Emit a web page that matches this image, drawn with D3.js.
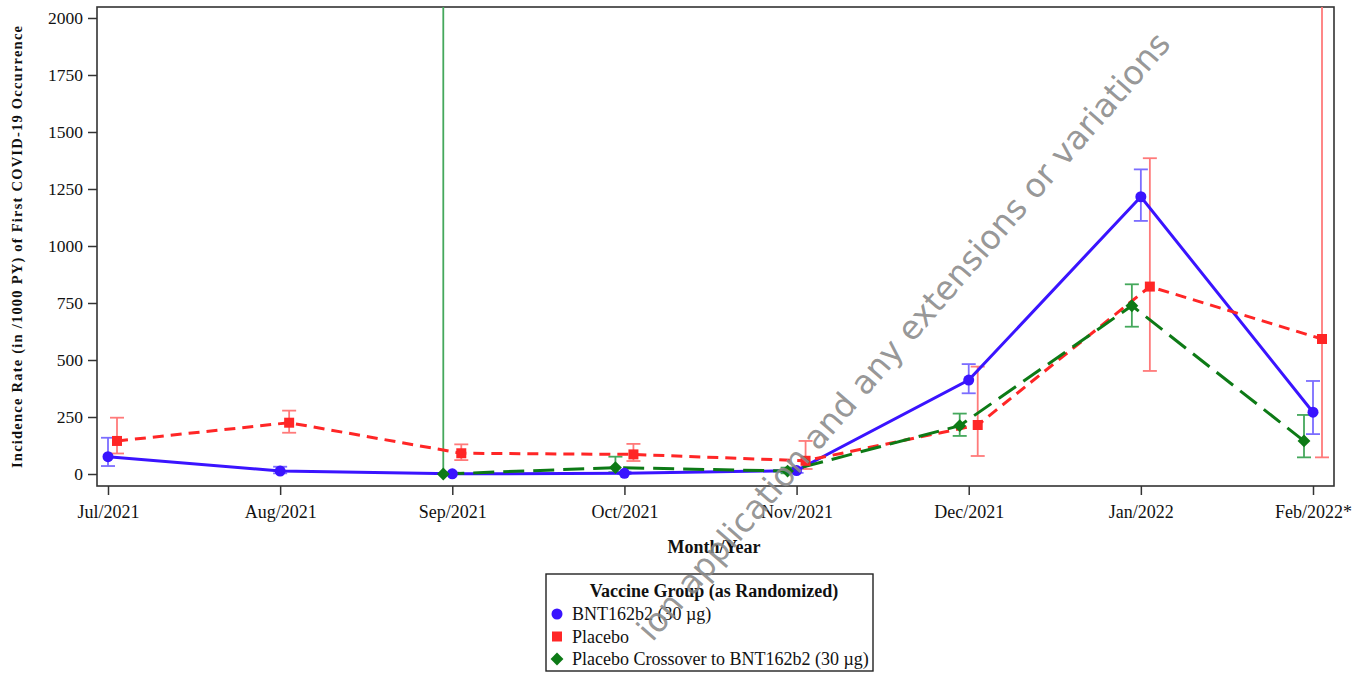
<!DOCTYPE html>
<html>
<head>
<meta charset="utf-8">
<script src="https://cdn.jsdelivr.net/npm/d3@7"></script>
<style>
  html, body { margin: 0; padding: 0; background: #fff; }
  svg { display: block; }
</style>
</head>
<body>
<svg id="chart" width="1364" height="673"></svg>
<script>
// --- data ---
const months = ["Jul/2021", "Aug/2021", "Sep/2021", "Oct/2021", "Nov/2021", "Dec/2021", "Jan/2022", "Feb/2022*"];
const yTicks = [0, 250, 500, 750, 1000, 1250, 1500, 1750, 2000];

const bntRate = [76, 13, 1, 3, 15, 412, 1216, 271];
const bntLow  = [35, 3, 0, 0, 5, 354, 1110, 175];
const bntHigh = [159, 32, 6, 10, 28, 482, 1336, 408];

const placeboRate = [145, 225, 91, 86, 58, 215, 822, 592];
const placeboLow  = [90, 181, 61, 57, 22, 79, 452, 73];
const placeboHigh = [247, 278, 130, 132, 145, 471, 1385, 3000];

const crossRate = [null, null, 0, 28, 13, 212, 738, 145];
const crossLow  = [null, null, 0, 8, 3, 167, 646, 73];
const crossHigh = [null, null, 20000, 76, 28, 265, 832, 259];

const legendTitle = "Vaccine Group (as Randomized)";
const seriesNames = ["BNT162b2 (30 \u00b5g)", "Placebo", "Placebo Crossover to BNT162b2 (30 \u00b5g)"];

const series = [
    { name: seriesNames[0], rate: bntRate, low: bntLow, high: bntHigh,
      color: "#3a14ff", barColor: "#7b6dff", dash: null, width: 3, shape: "circle", dx: 0 },
    { name: seriesNames[1], rate: placeboRate, low: placeboLow, high: placeboHigh,
      color: "#ff2626", barColor: "#ff7a7a", dash: "11,7", width: 3, shape: "square", dx: 9 },
    { name: seriesNames[2], rate: crossRate, low: crossLow, high: crossHigh,
      color: "#0d7a16", barColor: "#45a85c", dash: "21,9", width: 3, shape: "diamond", dx: -9 }
];

const svg = d3.select("#chart");
const serif = "'Liberation Serif', 'Times New Roman', serif";

const frame = { left: 97, right: 1334, top: 7, bottom: 486 };

const x = d3.scalePoint()
    .domain(months)
    .range([108, 1313]);

const y = d3.scaleLinear()
    .domain([-52.6, 2048.2])
    .range([frame.bottom, frame.top]);

svg.append("defs").append("clipPath")
    .attr("id", "plotClip")
  .append("rect")
    .attr("x", frame.left)
    .attr("y", frame.top)
    .attr("width", frame.right - frame.left)
    .attr("height", frame.bottom - frame.top);

// --- axes ---
const yAxis = d3.axisLeft(y)
    .tickValues(yTicks)
    .tickSize(9)
    .tickPadding(5)
    .tickFormat(d3.format("d"));

svg.append("g")
    .attr("transform", `translate(${frame.left},0)`)
    .call(yAxis)
    .call(g => g.select(".domain").remove())
    .call(g => g.selectAll("line").attr("stroke", "#333").attr("stroke-width", 1.5))
    .call(g => g.selectAll("text")
        .attr("font-family", serif)
        .attr("font-size", 17.5)
        .attr("fill", "#111"));

const xAxis = d3.axisBottom(x)
    .tickSize(9)
    .tickPadding(10);

svg.append("g")
    .attr("transform", `translate(0,${frame.bottom})`)
    .call(xAxis)
    .call(g => g.select(".domain").remove())
    .call(g => g.selectAll("line").attr("stroke", "#333").attr("stroke-width", 1.5))
    .call(g => g.selectAll("text")
        .attr("font-family", serif)
        .attr("font-size", 18)
        .attr("fill", "#111"));

// frame
svg.append("rect")
    .attr("x", frame.left)
    .attr("y", frame.top)
    .attr("width", frame.right - frame.left)
    .attr("height", frame.bottom - frame.top)
    .attr("fill", "none")
    .attr("stroke", "#333")
    .attr("stroke-width", 1.6);

// axis titles
svg.append("text")
    .attr("transform", "translate(22,247) rotate(-90)")
    .attr("text-anchor", "middle")
    .attr("font-family", serif)
    .attr("font-weight", "bold")
    .attr("font-size", 14.5)
    .attr("textLength", 442)
    .attr("fill", "#111")
    .text("Incidence Rate (in /1000 PY) of First COVID-19 Occurrence");

svg.append("text")
    .attr("x", 714)
    .attr("y", 553)
    .attr("text-anchor", "middle")
    .attr("font-family", serif)
    .attr("font-weight", "bold")
    .attr("font-size", 18)
    .attr("fill", "#111")
    .text("Month/Year");

// --- plot ---
const plot = svg.append("g").attr("clip-path", "url(#plotClip)");
const capW = 7;

function markerPath(shape) {
    if (shape === "circle") return d3.symbol(d3.symbolCircle, 95)();
    if (shape === "square") return d3.symbol(d3.symbolSquare, 100)();
    return d3.symbol(d3.symbolDiamond2 || d3.symbolDiamond, 105)();
}

// error bars
series.forEach(s => {
    const pts = months.map((m, i) => ({ m, lo: s.low[i], hi: s.high[i] }))
        .filter(d => d.lo != null);
    const g = plot.append("g")
        .attr("stroke", s.barColor)
        .attr("stroke-width", 1.8)
        .attr("fill", "none");
    pts.forEach(d => {
        const cx = x(d.m) + s.dx;
        g.append("line")
            .attr("x1", cx).attr("x2", cx)
            .attr("y1", y(d.lo)).attr("y2", y(d.hi));
        g.append("line")
            .attr("x1", cx - capW).attr("x2", cx + capW)
            .attr("y1", y(d.lo)).attr("y2", y(d.lo));
        g.append("line")
            .attr("x1", cx - capW).attr("x2", cx + capW)
            .attr("y1", y(d.hi)).attr("y2", y(d.hi));
    });
});

// lines
series.forEach(s => {
    const line = d3.line()
        .defined(d => d[1] != null)
        .x(d => x(d[0]) + s.dx)
        .y(d => y(d[1]));
    plot.append("path")
        .datum(months.map((m, i) => [m, s.rate[i]]))
        .attr("fill", "none")
        .attr("stroke", s.color)
        .attr("stroke-width", s.width)
        .attr("stroke-dasharray", s.dash)
        .attr("d", line);
});

// markers
series.forEach(s => {
    plot.append("g")
        .selectAll("path")
        .data(months.map((m, i) => [m, s.rate[i]]).filter(d => d[1] != null))
        .join("path")
        .attr("transform", d => `translate(${x(d[0]) + s.dx},${y(d[1])})`)
        .attr("d", markerPath(s.shape))
        .attr("fill", s.color);
});

// --- legend ---
const legend = svg.append("g");
legend.append("rect")
    .attr("x", 546)
    .attr("y", 574)
    .attr("width", 327)
    .attr("height", 97)
    .attr("fill", "#fff")
    .attr("stroke", "#222")
    .attr("stroke-width", 1.4);

legend.append("text")
    .attr("x", 714)
    .attr("y", 597)
    .attr("text-anchor", "middle")
    .attr("font-family", serif)
    .attr("font-weight", "bold")
    .attr("font-size", 18)
    .attr("fill", "#111")
    .text(legendTitle);

series.forEach((s, i) => {
    const rowY = 614 + i * 22.5;
    legend.append("path")
        .attr("transform", `translate(557,${rowY})`)
        .attr("d", markerPath(s.shape))
        .attr("fill", s.color);
    legend.append("text")
        .attr("x", 572)
        .attr("y", rowY + 6)
        .attr("font-family", serif)
        .attr("font-size", 18)
        .attr("fill", "#111")
        .text(s.name);
});

// --- watermark (only the part that shows inside the picture) ---
const wm = svg.append("g")
    .attr("transform", "translate(818,452) rotate(-49)")
    .attr("font-family", "'DejaVu Sans', Verdana, sans-serif")
    .attr("font-size", 33)
    .attr("fill", "#8a8a8a")
    .attr("fill-opacity", 0.9);
wm.append("text")
    .attr("x", -10)
    .attr("text-anchor", "end")
    .text("ion application");
wm.append("text")
    .attr("x", 0)
    .text("and any extensions or variations");
</script>
</body>
</html>
